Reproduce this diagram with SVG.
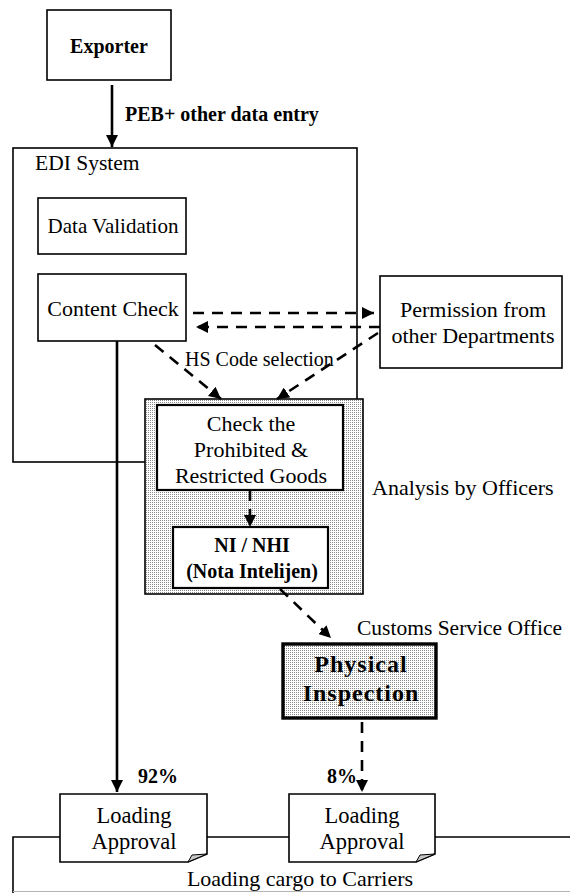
<svg xmlns="http://www.w3.org/2000/svg" width="570" height="893" viewBox="0 0 570 893">
  <style>
    .box { fill: #ffffff; stroke: #000000; stroke-width: 1.6; }
    .frame { fill: none; stroke: #000000; stroke-width: 1.6; }
    text { font-family: 'Liberation Serif', Tinos, 'Times New Roman', Times, 'DejaVu Serif', serif; fill: #000000; }
    .t { font-size: 22px; }
    .b { font-size: 20px; font-weight: bold; }
    .mid { text-anchor: middle; }
    .solid { fill: none; stroke: #000000; stroke-width: 2.6; }
    .dash { fill: none; stroke: #000000; stroke-width: 2.6; stroke-dasharray: 11 8; }
  </style>
  <defs>
    <pattern id="stipple" width="2" height="2" patternUnits="userSpaceOnUse">
      <rect width="2" height="2" fill="#ffffff"/>
      <rect width="1" height="1" fill="#8c8c8c"/>
    </pattern>
    <marker id="arrow" markerWidth="12" markerHeight="12" refX="10" refY="5" orient="auto" markerUnits="userSpaceOnUse" viewBox="0 0 10 10">
      <path d="M0,0 L10,5 L0,10 Z" fill="#000000"/>
    </marker>
  </defs>

  <rect width="570" height="893" fill="#ffffff"/>

  <!-- EDI system container -->
  <g id="edi-system">
    <rect class="frame" x="13" y="148" width="344" height="314"/>
    <text class="t" x="35" y="170" style="font-size:21.5px">EDI System</text>
  </g>

  <!-- carriers container at the bottom -->
  <g id="carriers">
    <path d="M13,893 V837 H570" fill="none" stroke="#000000" stroke-width="1.6"/>
    <line x1="13" y1="891.5" x2="570" y2="891.5" stroke="#b4b4b4" stroke-width="1.2"/>
    <text class="t mid" x="300" y="886">Loading cargo to Carriers</text>
  </g>

  <g id="exporter">
    <rect class="box" x="47" y="10" width="124" height="70"/>
    <text class="b mid" x="109" y="53">Exporter</text>
  </g>

  <g id="data-validation">
    <rect class="box" x="38" y="198" width="148" height="56"/>
    <text class="t mid" x="113" y="233" style="font-size:21px">Data Validation</text>
  </g>

  <g id="content-check">
    <rect class="box" x="38" y="274" width="148" height="67"/>
    <text class="t mid" x="113" y="316">Content Check</text>
  </g>

  <g id="permission">
    <rect class="box" x="380" y="276" width="182" height="92"/>
    <text class="t mid" x="473" y="317">Permission from</text>
    <text class="t mid" x="473" y="343">other Departments</text>
  </g>

  <g id="analysis">
    <rect x="145" y="399" width="218" height="195" fill="url(#stipple)" stroke="#000000" stroke-width="1.6"/>
    <text class="t" x="372" y="495">Analysis by Officers</text>
  </g>

  <g id="prohibited-check">
    <rect x="157" y="405" width="186" height="85" fill="#ffffff" stroke="#000000" stroke-width="2.2"/>
    <text class="t mid" x="251" y="431">Check the</text>
    <text class="t mid" x="251" y="457">Prohibited &amp;</text>
    <text class="t mid" x="251" y="483">Restricted Goods</text>
  </g>

  <g id="nota-intelijen">
    <rect x="173" y="527" width="155" height="61" fill="#ffffff" stroke="#000000" stroke-width="2.2"/>
    <text class="b mid" x="252" y="552">NI / NHI</text>
    <text class="b mid" x="252" y="578">(Nota Intelijen)</text>
  </g>

  <g id="physical-inspection">
    <rect x="283" y="644" width="153" height="74" fill="url(#stipple)" stroke="#000000" stroke-width="3.4"/>
    <text class="b mid" x="361" y="672" style="font-size:24px; letter-spacing:1px">Physical</text>
    <text class="b mid" x="361" y="701" style="font-size:24px; letter-spacing:1px">Inspection</text>
    <text class="t" x="357" y="635" style="font-size:21.5px">Customs Service Office</text>
  </g>

  <g id="approval-direct">
    <path class="box" d="M60,794 H207 V854 L188,862 H60 Z"/>
    <path d="M188,862 L192,855 L207,854 Z" fill="#c8c8c8" stroke="#000000" stroke-width="1"/>
    <text class="t mid" x="134" y="823" style="font-size:22.5px">Loading</text>
    <text class="t mid" x="134" y="849" style="font-size:22.5px">Approval</text>
  </g>

  <g id="approval-inspected">
    <path class="box" d="M289,794 H435 V854 L416,862 H289 Z"/>
    <path d="M416,862 L420,855 L435,854 Z" fill="#c8c8c8" stroke="#000000" stroke-width="1"/>
    <text class="t mid" x="362" y="823" style="font-size:22.5px">Loading</text>
    <text class="t mid" x="362" y="849" style="font-size:22.5px">Approval</text>
  </g>

  <!-- connectors -->
  <g id="connectors">
    <line class="solid" x1="112" y1="85" x2="112" y2="147" marker-end="url(#arrow)"/>
    <text class="b" x="125" y="121">PEB+ other data entry</text>

    <line class="dash" x1="193" y1="313" x2="374" y2="313" marker-end="url(#arrow)"/>
    <line class="dash" x1="380" y1="327" x2="196" y2="327" marker-end="url(#arrow)"/>

    <line class="dash" x1="155" y1="345" x2="221" y2="399" marker-end="url(#arrow)"/>
    <line class="dash" x1="378" y1="333" x2="277" y2="399" marker-end="url(#arrow)"/>
    <text class="t" x="185" y="366" style="font-size:20px">HS Code selection</text>

    <line class="dash" x1="250" y1="490" x2="250" y2="527" marker-end="url(#arrow)"/>
    <line class="dash" x1="280" y1="589" x2="331" y2="638" marker-end="url(#arrow)"/>

    <line class="solid" x1="117" y1="341" x2="117" y2="792" marker-end="url(#arrow)"/>
    <text class="b" x="138" y="783">92%</text>

    <line class="dash" x1="362" y1="722" x2="362" y2="792" marker-end="url(#arrow)"/>
    <text class="b" x="327" y="783">8%</text>
  </g>
</svg>
